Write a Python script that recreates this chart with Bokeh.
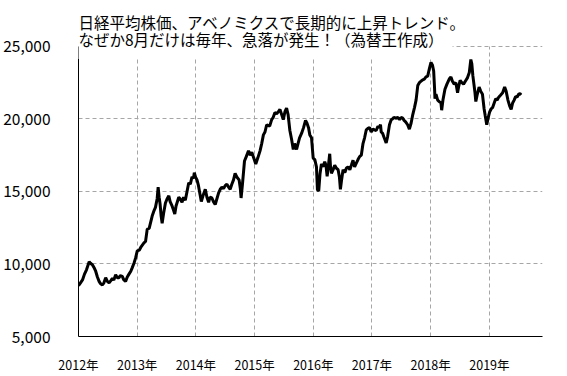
from bokeh.plotting import figure
from bokeh.models import Range1d, FixedTicker, Label
from bokeh.embed import file_html
from bokeh.resources import INLINE

title_line1 = "日経平均株価、アベノミクスで長期的に上昇トレンド。"
title_line2 = "なぜか8月だけは毎年、急落が発生！（為替王作成）"

year_ticks = [2012, 2013, 2014, 2015, 2016, 2017, 2018, 2019]
year_labels = ["2012年", "2013年", "2014年", "2015年", "2016年", "2017年", "2018年", "2019年"]
y_ticks = [5000, 10000, 15000, 20000, 25000]
y_labels = ["5,000", "10,000", "15,000", "20,000", "25,000"]

# time in decimal years, Nikkei 225 closing level
t_year = [
    2012.000, 2012.034, 2012.068, 2012.102, 2012.136, 2012.182, 2012.204, 2012.237, 2012.271, 2012.293,
    2012.322, 2012.351, 2012.373, 2012.407, 2012.433, 2012.463, 2012.492, 2012.521, 2012.551, 2012.577,
    2012.602, 2012.633, 2012.662, 2012.690, 2012.712, 2012.746, 2012.772, 2012.802, 2012.831, 2012.860,
    2012.891, 2012.916, 2012.945, 2012.972, 2013.001, 2013.035, 2013.069, 2013.115, 2013.142, 2013.171,
    2013.204, 2013.255, 2013.289, 2013.311, 2013.340, 2013.357, 2013.374, 2013.391, 2013.408, 2013.425,
    2013.450, 2013.481, 2013.510, 2013.539, 2013.561, 2013.594, 2013.620, 2013.640, 2013.662, 2013.708,
    2013.730, 2013.764, 2013.790, 2013.820, 2013.849, 2013.878, 2013.905, 2013.934, 2013.959, 2013.973,
    2013.993, 2014.019, 2014.044, 2014.070, 2014.092, 2014.121, 2014.160, 2014.188, 2014.217, 2014.239,
    2014.273, 2014.299, 2014.329, 2014.358, 2014.387, 2014.414, 2014.443, 2014.472, 2014.499, 2014.528,
    2014.556, 2014.584, 2014.612, 2014.641, 2014.668, 2014.697, 2014.736, 2014.757, 2014.770, 2014.791,
    2014.828, 2014.858, 2014.896, 2014.926, 2014.952, 2014.986, 2015.020, 2015.054, 2015.093, 2015.121,
    2015.150, 2015.177, 2015.206, 2015.257, 2015.291, 2015.316, 2015.347, 2015.376, 2015.405, 2015.432,
    2015.461, 2015.489, 2015.517, 2015.545, 2015.571, 2015.601, 2015.630, 2015.659, 2015.681, 2015.715,
    2015.740, 2015.766, 2015.800, 2015.834, 2015.868, 2015.893, 2015.919, 2015.941, 2015.970, 2015.998,
    2016.026, 2016.054, 2016.071, 2016.093, 2016.114, 2016.139, 2016.165, 2016.195, 2016.216, 2016.236,
    2016.258, 2016.280, 2016.292, 2016.309, 2016.338, 2016.365, 2016.394, 2016.423, 2016.445, 2016.462,
    2016.479, 2016.507, 2016.538, 2016.563, 2016.592, 2016.623, 2016.648, 2016.677, 2016.704, 2016.733,
    2016.762, 2016.789, 2016.818, 2016.847, 2016.874, 2016.903, 2016.931, 2016.959, 2016.987, 2017.016,
    2017.043, 2017.072, 2017.101, 2017.123, 2017.145, 2017.157, 2017.182, 2017.208, 2017.242, 2017.267,
    2017.298, 2017.327, 2017.352, 2017.372, 2017.403, 2017.440, 2017.471, 2017.496, 2017.525, 2017.547,
    2017.573, 2017.607, 2017.637, 2017.666, 2017.695, 2017.725, 2017.751, 2017.780, 2017.807, 2017.836,
    2017.864, 2017.892, 2017.920, 2017.949, 2017.980, 2018.005, 2018.031, 2018.051, 2018.065, 2018.073,
    2018.090, 2018.119, 2018.146, 2018.175, 2018.187, 2018.209, 2018.243, 2018.277, 2018.316, 2018.345,
    2018.370, 2018.401, 2018.429, 2018.458, 2018.480, 2018.502, 2018.531, 2018.560, 2018.590, 2018.628,
    2018.658, 2018.684, 2018.701, 2018.718, 2018.740, 2018.755, 2018.769, 2018.794, 2018.825, 2018.854,
    2018.882, 2018.910, 2018.930, 2018.955, 2018.981, 2019.006, 2019.032, 2019.057, 2019.108, 2019.133,
    2019.159, 2019.193, 2019.226, 2019.260, 2019.286, 2019.316, 2019.345, 2019.371, 2019.396, 2019.422,
    2019.447, 2019.473, 2019.498, 2019.520, 2019.541,
]
nikkei = [
    8500, 8700, 8900, 9300, 9600, 10150, 10050, 9950, 9700, 9500,
    9100, 8800, 8650, 8550, 8700, 9050, 8800, 8700, 8850, 9000,
    8900, 9250, 9050, 9050, 9200, 9150, 8900, 8800, 9100, 9300,
    9500, 9750, 10050, 10400, 10900, 10950, 11200, 11450, 11550, 12400,
    12450, 13300, 13700, 13900, 14500, 15300, 14600, 14100, 13300, 12800,
    13500, 14200, 14500, 14700, 14300, 14000, 13700, 13450, 14000, 14600,
    14500, 14250, 14600, 14400, 15000, 15600, 15500, 16000, 15900, 16300,
    16000, 15800, 15400, 14800, 14300, 14700, 15150, 14600, 14250, 14600,
    14550, 14300, 14100, 14500, 14900, 15150, 15300, 15200, 15400, 15500,
    15300, 15150, 15500, 15800, 16250, 16000, 15800, 15200, 14550, 15400,
    17100, 17400, 17800, 17500, 17700, 17300, 16900, 17300, 17800, 18300,
    18900, 19100, 19600, 19500, 19950, 20100, 20450, 20350, 20500, 20650,
    20300, 19950, 20500, 20750, 20300, 19200, 18600, 17900, 18300, 17900,
    18300, 18700, 19000, 19400, 19900, 19700, 19400, 18900, 18700, 17300,
    17200, 16700, 15100, 15050, 16200, 16900, 16700, 17050, 16800, 16050,
    16800, 17600, 16800, 16250, 16500, 16800, 16600, 16500, 16000, 15150,
    15700, 16500, 16300, 16600, 16700, 16500, 16800, 17150, 16700, 16950,
    17200, 17400, 17500, 18300, 18700, 19250, 19350, 19400, 19100, 19300,
    19250, 19200, 19500, 19400, 19600, 19100, 19000, 18700, 18350, 18800,
    19600, 19950, 20000, 20100, 20050, 20100, 19950, 20100, 20050, 19900,
    19800, 19600, 19300, 19700, 20300, 20800, 21300, 22300, 22500, 22600,
    22700, 22750, 22900, 22950, 23500, 23900, 23700, 23300, 22200, 21400,
    21700, 21300, 21200, 21100, 20600, 21300, 22050, 22400, 22750, 22900,
    22600, 22400, 22500, 21800, 22300, 22650, 22500, 22400, 22600, 22850,
    23200, 24100, 23800, 23000, 22300, 21800, 21200, 21700, 22200, 21900,
    21700, 20700, 20200, 19600, 20100, 20500, 20700, 20800, 21400, 21300,
    21500, 21650, 21800, 22200, 21900, 21300, 20900, 20650, 21100, 21300,
    21550, 21500, 21700, 21750, 21650,
]

FONT = "Noto Sans CJK JP"

# frame spans the full canvas height above the x axis so the title can sit
# inside it; the value axis and the grid are bounded to 5,000-25,000.
Y_MIN, Y_MAX = 5000, 25000
Y_TOP = Y_MAX + 47 * (Y_MAX - Y_MIN) / 297

p = figure(
    width=567, height=376,
    x_range=Range1d(2012, 2019.905), y_range=Range1d(Y_MIN, Y_TOP),
    output_backend="svg", toolbar_location=None,
    min_border_left=76, min_border_right=25, min_border_top=0, min_border_bottom=32,
)
p.outline_line_color = None
p.background_fill_color = "white"
p.border_fill_color = "white"

# axes
p.xaxis.ticker = FixedTicker(ticks=year_ticks)
p.xaxis.major_label_overrides = {t: s for t, s in zip(year_ticks, year_labels)}
p.yaxis.ticker = FixedTicker(ticks=y_ticks)
p.yaxis.major_label_overrides = {t: s for t, s in zip(y_ticks, y_labels)}
p.yaxis.bounds = (Y_MIN, Y_MAX)
for ax in (p.xaxis, p.yaxis):
    ax.axis_line_color = "black"
    ax.axis_line_width = 1
    ax.major_tick_line_color = None
    ax.minor_tick_line_color = None
    ax.major_label_text_font = FONT
    ax.major_label_text_color = "black"
p.yaxis.major_label_text_font_size = "15.5px"
p.yaxis.major_label_standoff = 22
p.xaxis.major_label_text_font_size = "12.5px"
p.xaxis.major_label_standoff = 12

# grid
for g in (p.xgrid, p.ygrid):
    g.grid_line_color = "#a6a6a6"
    g.grid_line_dash = "4 3"
    g.grid_line_width = 1
p.xgrid.ticker = FixedTicker(ticks=year_ticks[1:])
p.xgrid.cross_bounds = (Y_MIN, Y_MAX)
p.ygrid.ticker = FixedTicker(ticks=y_ticks[1:])

p.line(t_year, nikkei, line_color="black", line_width=3)

px = (Y_MAX - Y_MIN) / 297  # data units per pixel
PAD = 9
lab2 = Label(x=2012, y=Y_TOP - (28 - PAD) * px, x_offset=-PAD, text=title_line2,
             text_font=FONT, text_font_size="15.5px", text_color="black",
             text_baseline="top", text_align="left",
             background_fill_color="white", background_fill_alpha=1.0,
             padding=PAD)
lab1 = Label(x=2012, y=Y_TOP - 11 * px, text=title_line1,
             text_font=FONT, text_font_size="15.5px", text_color="black",
             text_baseline="top", text_align="left")
p.add_layout(lab2)
p.add_layout(lab1)

open("out.html", "w").write(file_html(p, INLINE))
